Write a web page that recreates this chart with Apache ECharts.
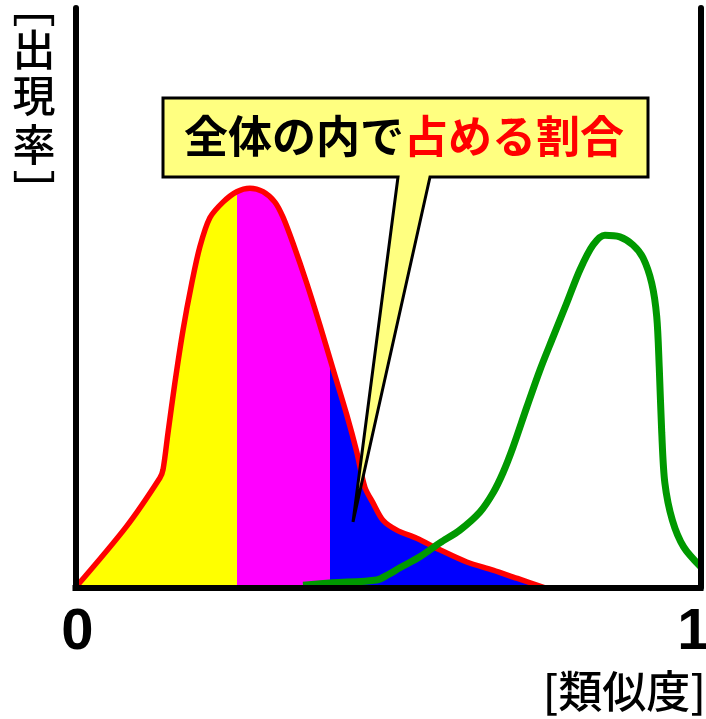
<!DOCTYPE html>
<html>
<head>
<meta charset="utf-8">
<script src="https://cdn.jsdelivr.net/npm/echarts@6/dist/echarts.min.js"></script>
<style>
  html, body { margin: 0; padding: 0; background: #ffffff; }
  #chart { width: 706px; height: 719px; }
</style>
</head>
<body>
<div id="chart"></div>
<script>
// 類似度 (x: 0–1) に対する出現率 (y: 0–100)
// 赤: 対象の分布（3区間に塗り分け）
const simRed = [0.000, 0.082, 0.135, 0.140, 0.148, 0.159, 0.172, 0.186, 0.199, 0.215,
                0.236, 0.258, 0.279, 0.300, 0.319, 0.332, 0.348, 0.370, 0.391, 0.412,
                0.434, 0.450, 0.463, 0.476, 0.492, 0.514, 0.546, 0.583, 0.626, 0.668,
                0.706, 0.750];
const rateRed = [0.0, 10.6, 18.9, 20.3, 26.7, 35.3, 44.4, 52.5, 58.8, 63.8,
                 66.5, 68.3, 68.9, 68.3, 66.5, 63.9, 59.4, 52.5, 45.3, 37.7,
                 29.8, 23.4, 17.3, 14.6, 11.6, 9.9, 8.5, 6.5, 4.4, 3.0,
                 1.6, 0.0];

// 緑: 比較対象の分布
const simGreen = [0.364, 0.412, 0.482, 0.500, 0.519, 0.551, 0.583, 0.615, 0.647, 0.668,
                  0.684, 0.700, 0.722, 0.743, 0.764, 0.786, 0.807, 0.828, 0.847, 0.871,
                  0.892, 0.908, 0.922, 0.930, 0.934, 0.938, 0.943, 0.955, 0.973, 1.000];
const rateGreen = [0.4, 0.8, 1.3, 2.2, 3.4, 5.3, 7.7, 9.9, 13.0, 16.3,
                   19.8, 24.2, 31.1, 37.5, 43.2, 49.1, 54.8, 59.1, 60.8, 60.5,
                   59.1, 56.9, 52.5, 46.7, 38.0, 26.7, 18.0, 11.6, 7.0, 3.6];

// 塗り分けの境界（類似度）と色
const bandEdges = [0.258, 0.407];
const bandColors = ['#ffff00', '#ff00ff', '#0000ff'];

// 目盛りラベル・軸タイトル・吹き出し
const xTickLabels = ['0', '1'];
const yTitleChars = ['﹇', '出', '現', '率', '﹈'];
const xTitle = '[類似度]';
const calloutLead = '全体の内で';
const calloutEmph = '占める割合';
const calloutTip = [0.444, 11.3];

const zip = (xs, ys) => xs.map((x, i) => [x, ys[i]]);
const redPts = zip(simRed, rateRed);
const greenPts = zip(simGreen, rateGreen);

const JP = '"Noto Sans CJK JP", "Noto Sans CJK SC", sans-serif';
const NUM = '"Liberation Sans", Arial, sans-serif';

const chart = echarts.init(document.getElementById('chart'), null, { renderer: 'canvas' });

const frameLine = { show: true, onZero: false, lineStyle: { color: '#000000', width: 6 } };
const hiddenBits = { axisTick: { show: false }, axisLabel: { show: false }, splitLine: { show: false } };
const tickFont = { fontFamily: NUM, fontSize: 58, fontWeight: 'bold', color: '#000000' };

chart.setOption({
  animation: false,
  backgroundColor: '#ffffff',
  grid: { left: 75.5, right: 5.5, top: 8, bottom: 131.5, outerBoundsMode: 'none' },
  xAxis: {
    type: 'value', min: 0, max: 1, interval: 1, z: 10,
    axisLine: { show: true, onZero: false, lineStyle: { color: '#000000', width: 6, cap: 'square' } },
    axisTick: { show: false },
    splitLine: { show: false },
    axisLabel: {
      margin: 16,
      ...tickFont,
      formatter: v => (v === 0 ? '{a|' + xTickLabels[0] + '}' : '{b|' + xTickLabels[1] + '}'),
      rich: {
        a: { ...tickFont, padding: [0, 0, 0, 4] },
        b: { ...tickFont, padding: [0, 14, 0, 0] }
      }
    }
  },
  yAxis: [
    { type: 'value', min: 0, max: 100, position: 'left', z: 10, axisLine: frameLine, ...hiddenBits },
    { type: 'value', min: 0, max: 100, position: 'right', z: 10, axisLine: frameLine, ...hiddenBits }
  ],
  visualMap: {
    type: 'piecewise', show: false, dimension: 0, seriesIndex: 0,
    pieces: [
      { lt: bandEdges[0], color: bandColors[0] },
      { gte: bandEdges[0], lt: bandEdges[1], color: bandColors[1] },
      { gte: bandEdges[1], color: bandColors[2] }
    ]
  },
  series: [
    {
      name: 'area', type: 'line', data: redPts, smooth: 0.3, symbol: 'none', z: 1,
      lineStyle: { width: 0 }, areaStyle: { opacity: 1 }
    },
    {
      name: 'red', type: 'line', data: redPts, smooth: 0.3, symbol: 'none', z: 2,
      lineStyle: { color: '#ff0000', width: 5.5 }
    },
    {
      name: 'green', type: 'line', data: greenPts, smooth: 0.3, symbol: 'none', z: 3,
      lineStyle: { color: '#009900', width: 7 }
    }
  ]
});

// 吹き出しの先端はデータ座標から求める
const tip = chart.convertToPixel({ gridIndex: 0 }, calloutTip);
const box = { x0: 163, y0: 98, x1: 648, y1: 177, tailL: 398, tailR: 430 };

// 縦書きの軸タイトル（括弧は縦書き用の字形）
const yTitleY = [6, 50, 95.5, 144.5, 192];

chart.setOption({
  graphic: [
    {
      type: 'polygon', z: 50,
      shape: {
        points: [
          [box.x0, box.y0], [box.x1, box.y0], [box.x1, box.y1],
          [box.tailR, box.y1], tip, [box.tailL, box.y1], [box.x0, box.y1]
        ]
      },
      style: { fill: '#ffff80', stroke: '#000000', lineWidth: 3, lineJoin: 'miter' }
    },
    {
      type: 'text', z: 51, x: 404, y: 136.5,
      style: {
        text: '{a|' + calloutLead + '}{r|' + calloutEmph + '}',
        align: 'center', verticalAlign: 'middle',
        rich: {
          a: { fontFamily: JP, fontSize: 44, fontWeight: 'bold', fill: '#000000' },
          r: { fontFamily: JP, fontSize: 44, fontWeight: 'bold', fill: '#ff0000' }
        }
      }
    },
    ...yTitleChars.map((ch, i) => ({
      type: 'text', z: 51, x: 34, y: yTitleY[i],
      style: {
        text: ch, align: 'center', verticalAlign: 'middle',
        fontFamily: JP, fontSize: 43, fontWeight: 500, fill: '#000000'
      }
    })),
    {
      type: 'text', z: 51, x: 706, y: 691,
      style: {
        text: xTitle, align: 'right', verticalAlign: 'middle',
        fontFamily: JP, fontSize: 44, fontWeight: 500, fill: '#000000'
      }
    }
  ]
});
</script>
</body>
</html>
